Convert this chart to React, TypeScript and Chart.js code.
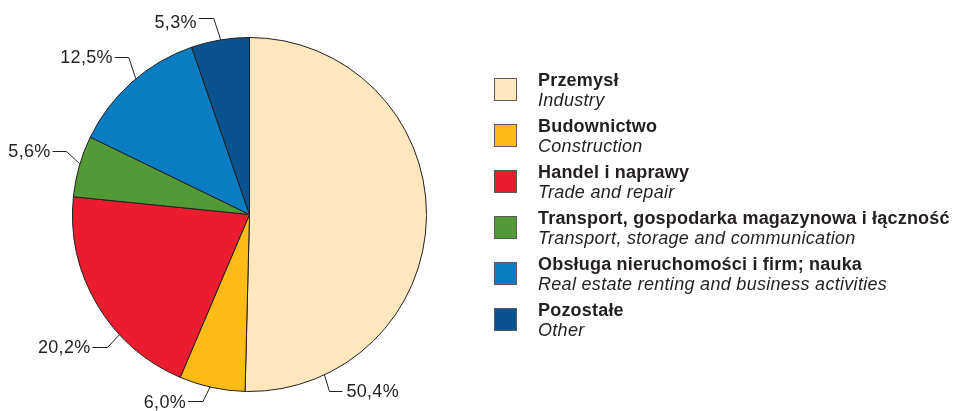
import React, { useEffect, useRef } from 'react';
import { Chart, registerables } from 'chart.js';

Chart.register(...registerables);

const categoriesPL = [
  'Przemysł',
  'Budownictwo',
  'Handel i naprawy',
  'Transport, gospodarka magazynowa i łączność',
  'Obsługa nieruchomości i firm; nauka',
  'Pozostałe',
];
const categoriesEN = [
  'Industry',
  'Construction',
  'Trade and repair',
  'Transport, storage and communication',
  'Real estate renting and business activities',
  'Other',
];
const shares = [50.4, 6.0, 20.2, 5.6, 12.5, 5.3];
const colors = ['#FEE7BC', '#FDBC15', '#EC1C2F', '#519A36', '#0A7CC2', '#08538F'];

const formatPct = (v: number) => v.toFixed(1).replace('.', ',') + '%';

// leader-line layout (style only): fraction of slice angle for anchor, elbow offset, horizontal run, text y nudge
const LEADERS = [
  { frac: 0.854, dx: 5, dy: 16, h: 13, ty: 0 },
  { frac: 0.53, dx: -7, dy: 13.5, h: -15, ty: 1.5 },
  { frac: 0.333, dx: -12, dy: 12.5, h: -15, ty: 0 },
  { frac: 0.537, dx: -13.3, dy: -13.3, h: -14, ty: 0 },
  { frac: 0.536, dx: -7, dy: -21.5, h: -14, ty: 0 },
  { frac: 0.51, dx: -7, dy: -22, h: -15, ty: 4 },
];

const INK = '#231F20';
const FONT = '"Liberation Sans", Arial, Helvetica, sans-serif';

const labelPlugin = {
  id: 'leaderLabels',
  afterDatasetsDraw(chart: any) {
    const ctx = chart.ctx as any;
    const meta = chart.getDatasetMeta(0);
    ctx.save();
    ctx.strokeStyle = INK;
    ctx.lineWidth = 1;
    ctx.fillStyle = INK;
    ctx.font = `18px ${FONT}`;
    ctx.letterSpacing = '0.3px';
    ctx.textBaseline = 'middle';
    meta.data.forEach((arc: any, i: number) => {
      const L = LEADERS[i];
      const a = arc.startAngle + L.frac * (arc.endAngle - arc.startAngle);
      const r = arc.outerRadius;
      const ax = arc.x + r * Math.cos(a);
      const ay = arc.y + r * Math.sin(a);
      const ex = ax + L.dx;
      const ey = Math.round(ay + L.dy) + 0.5;
      const hx = ex + L.h;
      ctx.beginPath();
      ctx.moveTo(ax, ay);
      ctx.lineTo(ex, ey);
      ctx.lineTo(hx, ey);
      ctx.stroke();
      const txt = formatPct(shares[i]);
      if (L.h >= 0) {
        ctx.textAlign = 'left';
        ctx.fillText(txt, hx + 4, ey + L.ty + 0.5);
      } else {
        ctx.textAlign = 'right';
        ctx.fillText(txt, hx - 2, ey + L.ty + 0.5);
      }
    });
    ctx.restore();
  },
};

const legendPlugin = {
  id: 'sideLegend',
  afterDraw(chart: any) {
    const ctx = chart.ctx as any;
    const x0 = 494;
    const top0 = 78;
    const step = 46;
    const size = 23;
    ctx.save();
    categoriesPL.forEach((pl, i) => {
      const top = top0 + i * step;
      ctx.fillStyle = colors[i];
      ctx.fillRect(x0, top, size, size);
      ctx.strokeStyle = '#5A5A5A';
      ctx.lineWidth = 1;
      ctx.strokeRect(x0 + 0.5, top + 0.5, size - 1, size - 1);
      ctx.fillStyle = INK;
      ctx.textAlign = 'left';
      ctx.textBaseline = 'alphabetic';
      ctx.font = `bold 18px ${FONT}`;
      ctx.letterSpacing = '0.2px';
      ctx.fillText(pl, 538, top + 8);
      ctx.font = `italic 18px ${FONT}`;
      ctx.letterSpacing = '0.3px';
      ctx.fillText(categoriesEN[i], 538, top + 27.5);
    });
    ctx.restore();
  },
};

export default function App() {
  const ref = useRef<HTMLCanvasElement | null>(null);
  useEffect(() => {
    if (!ref.current) return;
    const chart = new Chart(ref.current, {
      type: 'pie',
      data: {
        labels: categoriesPL,
        datasets: [
          {
            data: shares,
            backgroundColor: colors,
            borderColor: INK,
            borderWidth: 1,
          },
        ],
      },
      options: {
        responsive: true,
        maintainAspectRatio: false,
        animation: false,
        layout: { padding: { left: 72, top: 37, right: 531, bottom: 19 } },
        plugins: {
          legend: { display: false },
          tooltip: { enabled: false },
          title: { display: false },
        },
      },
      plugins: [labelPlugin, legendPlugin],
    });
    return () => chart.destroy();
  }, []);
  return (
    <div style={{ position: 'absolute', left: 0, top: 0, width: 958, height: 411, background: '#fff' }}>
      <canvas ref={ref} />
    </div>
  );
}
